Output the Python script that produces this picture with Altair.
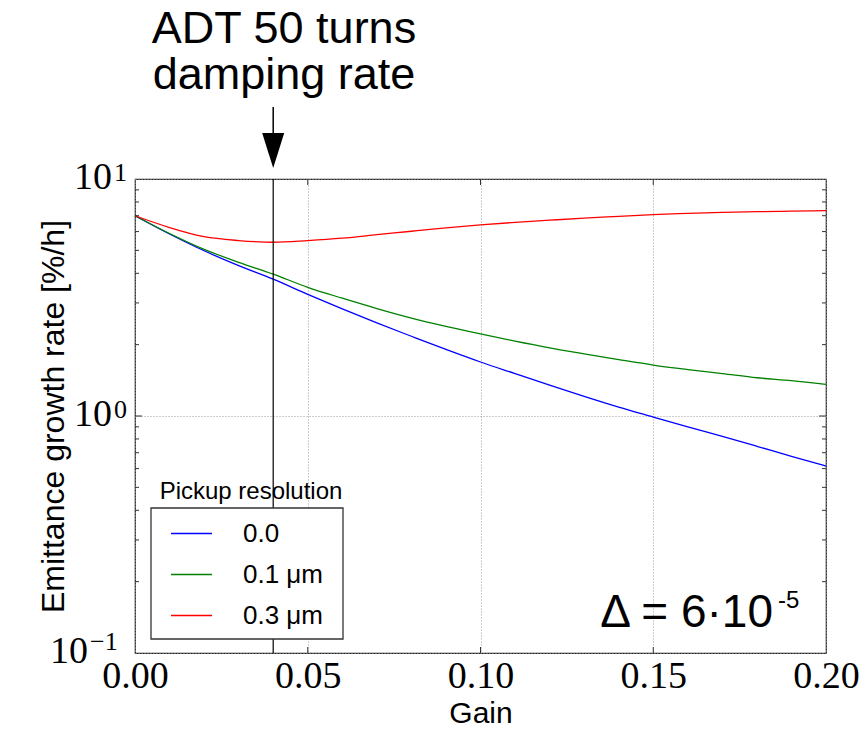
import altair as alt
import pandas as pd

# ---------------- data ----------------
gain = [0.00, 0.01, 0.02, 0.03, 0.04, 0.05, 0.06, 0.07, 0.08, 0.09, 0.10,
        0.11, 0.12, 0.13, 0.14, 0.15, 0.16, 0.17, 0.18, 0.19, 0.20]
rate_res_00 = [7.00, 5.86, 4.98, 4.31, 3.78, 3.26, 2.83, 2.47, 2.17, 1.91, 1.69,
               1.51, 1.35, 1.21, 1.09, 0.99, 0.90, 0.82, 0.745, 0.676, 0.615]
rate_res_01 = [7.00, 5.89, 5.05, 4.45, 3.97, 3.49, 3.14, 2.84, 2.59, 2.39, 2.22,
               2.07, 1.94, 1.83, 1.73, 1.64, 1.57, 1.51, 1.45, 1.41, 1.36]
rate_res_03 = [7.00, 6.24, 5.71, 5.50, 5.41, 5.50, 5.63, 5.82, 6.02, 6.22, 6.40,
               6.56, 6.70, 6.84, 6.96, 7.08, 7.16, 7.23, 7.28, 7.32, 7.35]
series_names = ["0.0", "0.1 \u03bcm", "0.3 \u03bcm"]
series_colors = ["#0000ff", "#008000", "#ff0000"]

adt_gain = [0.04]
x_ticks = [0.0, 0.05, 0.10, 0.15, 0.20]
x_inner_ticks = [0.05, 0.10, 0.15]
y_major = [0.1, 1.0, 10.0]
y_minor = [0.2, 0.3, 0.4, 0.5, 0.6, 0.7, 0.8, 0.9,
           2.0, 3.0, 4.0, 5.0, 6.0, 7.0, 8.0, 9.0]
y_pos_labels = [10.0, 1.0]
y_pos_exponents = ["1", "0"]
y_neg_labels = [0.1]
y_neg_exponents = ["\u22121"]
annotation_lines = ["ADT 50 turns", "damping rate"]

W, H = 691, 474
SERIF = "Liberation Serif"
SANS = "Liberation Sans"

# ---------------- tables ----------------
rows = []
for name, vals in zip(series_names, [rate_res_00, rate_res_01, rate_res_03]):
    for g, v in zip(gain, vals):
        rows.append({"gain": g, "rate": v, "series": name})
df = pd.DataFrame(rows)

xscale = alt.Scale(domain=[0, 0.2], nice=False, zero=False)
yscale = alt.Scale(type="log", domain=[0.1, 10], nice=False)

x_axis = alt.Axis(values=x_ticks, format=".2f", title="Gain",
                  labelFont=SERIF, labelFontSize=38, labelColor="#000",
                  labelBaseline="alphabetic", labelPadding=34, labelFlush=False,
                  labelOverlap=False,
                  ticks=False, tickSize=0, domain=False,
                  grid=True, gridDash=[1, 2], gridColor="#9a9a9a", gridWidth=1,
                  titleFont=SANS, titleFontSize=30, titleFontWeight="normal",
                  titleColor="#000", titleBaseline="alphabetic", titleY=69)
y_axis = alt.Axis(values=y_major, labels=False, ticks=False, tickSize=0, domain=False,
                  grid=True, gridDash=[1, 2], gridColor="#9a9a9a", gridWidth=1,
                  title="Emittance growth rate [%/h]",
                  titleFont=SANS, titleFontSize=32, titleFontWeight="normal",
                  titleColor="#000", titleAngle=270, titleBaseline="alphabetic",
                  titleAlign="center", titleX=-72, titleY=H / 2)

lines = alt.Chart(df).mark_line(strokeWidth=1.3, interpolate="monotone").encode(
    x=alt.X("gain:Q", scale=xscale, axis=x_axis),
    y=alt.Y("rate:Q", scale=yscale, axis=y_axis),
    color=alt.Color("series:N",
                    scale=alt.Scale(domain=series_names, range=series_colors),
                    legend=alt.Legend(orient="none", legendX=35, legendY=333,
                                      title=None, symbolType="stroke",
                                      symbolSize=1681, symbolStrokeWidth=1.3,
                                      labelFont=SANS, labelFontSize=26,
                                      labelColor="#000", labelOffset=30,
                                      rowPadding=6, padding=0)),
)

adt_df = pd.DataFrame({"gain": adt_gain})
adt_line = alt.Chart(adt_df).mark_rule(color="#000", strokeWidth=1.2).encode(
    x="gain:Q", y=alt.value(0), y2=alt.value(H))
arrow_shaft = alt.Chart(adt_df).mark_rule(color="#000", strokeWidth=1.5).encode(
    x="gain:Q", y=alt.value(-72), y2=alt.value(-42))
arrow_head = alt.Chart(adt_df).mark_point(
    shape="M-0.63,-1L0.63,-1L0,1Z", filled=True, color="#000", opacity=1,
    size=1225).encode(x="gain:Q", y=alt.value(-28.5))

# inward ticks
minor_df = pd.DataFrame({"rate": y_minor})
major_df = pd.DataFrame({"rate": [1.0]})
xt_df = pd.DataFrame({"gain": x_inner_ticks})
tick_style = dict(color="#333", strokeWidth=1)
yl_minor = alt.Chart(minor_df).mark_rule(**tick_style).encode(
    y="rate:Q", x=alt.value(0), x2=alt.value(4))
yr_minor = alt.Chart(minor_df).mark_rule(**tick_style).encode(
    y="rate:Q", x=alt.value(W), x2=alt.value(W - 4))
yl_major = alt.Chart(major_df).mark_rule(**tick_style).encode(
    y="rate:Q", x=alt.value(0), x2=alt.value(7))
yr_major = alt.Chart(major_df).mark_rule(**tick_style).encode(
    y="rate:Q", x=alt.value(W), x2=alt.value(W - 7))
xb = alt.Chart(xt_df).mark_rule(**tick_style).encode(
    x="gain:Q", y=alt.value(H), y2=alt.value(H - 6))
xtop = alt.Chart(xt_df).mark_rule(**tick_style).encode(
    x="gain:Q", y=alt.value(0), y2=alt.value(6))

# y tick labels with superscripts
pos_df = pd.DataFrame({"rate": y_pos_labels, "exp": y_pos_exponents, "base": ["10"] * 2})
neg_df = pd.DataFrame({"rate": y_neg_labels, "exp": y_neg_exponents, "base": ["10"]})
ylab_pos = alt.Chart(pos_df).mark_text(font=SERIF, fontSize=38, align="right",
                                       baseline="alphabetic", dy=10, color="#000").encode(
    y="rate:Q", x=alt.value(-23), text="base:N")
yexp_pos = alt.Chart(pos_df).mark_text(font=SERIF, fontSize=26, align="left",
                                       baseline="alphabetic", dy=2, color="#000").encode(
    y="rate:Q", x=alt.value(-21), text="exp:N")
ylab_neg = alt.Chart(neg_df).mark_text(font=SERIF, fontSize=38, align="right",
                                       baseline="alphabetic", dy=10, color="#000").encode(
    y="rate:Q", x=alt.value(-47), text="base:N")
yexp_neg = alt.Chart(neg_df).mark_text(font=SERIF, fontSize=26, align="left",
                                       baseline="alphabetic", dy=-3, color="#000").encode(
    y="rate:Q", x=alt.value(-45), text="exp:N")

# legend box and title
box = alt.Chart(pd.DataFrame({"k": [0]})).mark_rect(
    fill="white", stroke="#333", strokeWidth=1.3).encode(
    x=alt.value(16), x2=alt.value(208), y=alt.value(329), y2=alt.value(460))
leg_title = alt.Chart(pd.DataFrame({"t": ["Pickup resolution"]})).mark_text(
    font=SANS, fontSize=24, align="center", baseline="alphabetic", color="#000").encode(
    x=alt.value(116), y=alt.value(320), text="t:N")

# annotations
ann = alt.Chart(pd.DataFrame({"k": [0]})).mark_text(
    font=SANS, fontSize=45, align="center", baseline="alphabetic", color="#000",
    lineHeight=46).encode(
    x=alt.value(149), y=alt.value(-136), text=alt.value(annotation_lines))
delta_main = alt.Chart(pd.DataFrame({"t": ["\u0394 = 6\u00b710"]})).mark_text(
    font=SANS, fontSize=46, align="right", baseline="alphabetic", color="#000").encode(
    x=alt.value(638), y=alt.value(448), text="t:N")
delta_exp = alt.Chart(pd.DataFrame({"t": ["-5"]})).mark_text(
    font=SANS, fontSize=24, align="left", baseline="alphabetic", color="#000").encode(
    x=alt.value(643), y=alt.value(429), text="t:N")

chart = alt.layer(
    lines, adt_line, yl_minor, yr_minor, yl_major, yr_major, xb, xtop,
    box, leg_title, arrow_shaft, arrow_head, ann,
    ylab_pos, yexp_pos, ylab_neg, yexp_neg, delta_main, delta_exp,
).properties(
    width=W, height=H,
    autosize=alt.AutoSizeParams(type="none"),
    padding={"left": 135, "top": 179, "right": 39, "bottom": 76},
    background="white",
).configure_view(stroke="#222", strokeWidth=1.2)

chart.save("out.html", embed_options={"renderer": "svg", "actions": False})
